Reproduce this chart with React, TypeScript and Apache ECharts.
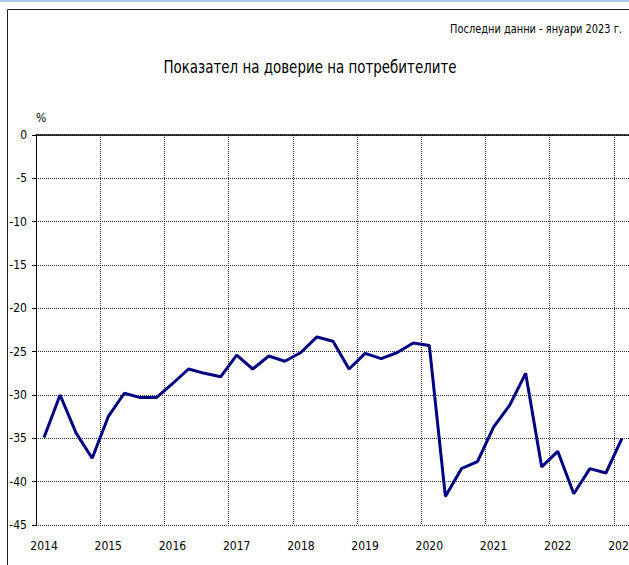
import React, { useEffect, useRef } from "react";
import * as echarts from "echarts";

const years = ["2014", "2015", "2016", "2017", "2018", "2019", "2020", "2021", "2022", "2023"];
const quarters = ["I", "II", "III", "IV"];
const categories: string[] = [];
years.forEach((y) => quarters.forEach((q) => categories.push(`${y}-${q}`)));
const values = [
  -34.9, -30.0, -34.4, -37.3,
  -32.5, -29.8, -30.3, -30.3,
  -28.7, -27.0, -27.5, -27.9,
  -25.4, -27.0, -25.5, -26.1,
  -25.1, -23.3, -23.8, -27.0,
  -25.2, -25.8, -25.1, -24.0,
  -24.3, -41.7, -38.5, -37.7,
  -33.7, -31.2, -27.5, -38.3,
  -36.5, -41.4, -38.5, -39.0,
  -35.0,
];
const cats = categories.slice(0, values.length);
const titleText = "Показател на доверие на потребителите";
const subtitleText = "Последни данни - януари 2023 г.";
const unitText = "%";

const FONT = "'DejaVu Sans Condensed', 'Liberation Sans Narrow', 'DejaVu Sans', sans-serif";

export default function App() {
  const ref = useRef<HTMLDivElement>(null);
  useEffect(() => {
    if (!ref.current) return;
    const chart = echarts.init(ref.current, null, { renderer: "svg" });
    chart.setOption({
      animation: false,
      backgroundColor: "#ffffff",
      graphic: [
        { type: "line", shape: { x1: 0, y1: 1, x2: 700, y2: 1 }, style: { stroke: "#a6cbec", lineWidth: 2 } },
        { type: "rect", shape: { x: 7.5, y: 9.5, width: 700, height: 600 }, style: { stroke: "#222", fill: "none", lineWidth: 1 } },
        {
          type: "text", x: 622, y: 29, scaleX: 0.84,
          style: { text: subtitleText, align: "right", verticalAlign: "middle", font: `13px ${FONT}`, fill: "#000" },
        },
        {
          type: "text", x: 310, y: 67, scaleX: 0.83,
          style: { text: titleText, align: "center", verticalAlign: "middle", font: `18px ${FONT}`, fill: "#000" },
        },
      ],
      grid: { left: 36, top: 135, right: 30, bottom: 40, containLabel: false },
      xAxis: [
        {
          type: "category",
          data: cats,
          boundaryGap: true,
          position: "bottom",
          axisLine: { show: false, onZero: false },
          axisTick: { show: false, interval: 3 },
          axisLabel: {
            interval: 3,
            margin: 15,
            formatter: (v: string) => v.slice(0, 4),
            fontFamily: FONT,
            fontSize: 12,
            color: "#000",
          },
          splitLine: { show: true, interval: 3, lineStyle: { color: "#333", type: [1, 1], width: 1 } },
        },
        {
          type: "category",
          data: cats,
          boundaryGap: true,
          position: "top",
          axisLine: { show: true, onZero: false, lineStyle: { color: "#000", width: 1.5 } },
          axisTick: { show: false },
          axisLabel: { show: false },
          splitLine: { show: false },
        },
      ],
      yAxis: {
        type: "value",
        min: -45,
        max: 0,
        interval: 5,
        name: unitText,
        nameLocation: "end",
        nameGap: 11,
        nameTextStyle: { align: "left", fontFamily: FONT, fontSize: 12, color: "#000", padding: [0, 0, 0, 0] },
        axisLine: { show: true, lineStyle: { color: "#000", width: 1 } },
        axisTick: { show: true, length: 4, lineStyle: { color: "#000" } },
        axisLabel: { margin: 9, fontFamily: FONT, fontSize: 12, color: "#000" },
        splitLine: { show: true, lineStyle: { color: "#333", type: [1, 1], width: 1 } },
      },
      series: [
        {
          type: "line",
          data: values,
          xAxisIndex: 0,
          symbol: "none",
          lineStyle: { color: "#000080", width: 3 },
          itemStyle: { color: "#000080" },
        },
      ],
    });
    return () => chart.dispose();
  }, []);
  return (
    <div style={{ position: "fixed", left: 0, top: 0, width: 629, height: 565, overflow: "hidden", background: "#fff" }}>
      <div ref={ref} style={{ width: 660, height: 565 }} />
    </div>
  );
}
